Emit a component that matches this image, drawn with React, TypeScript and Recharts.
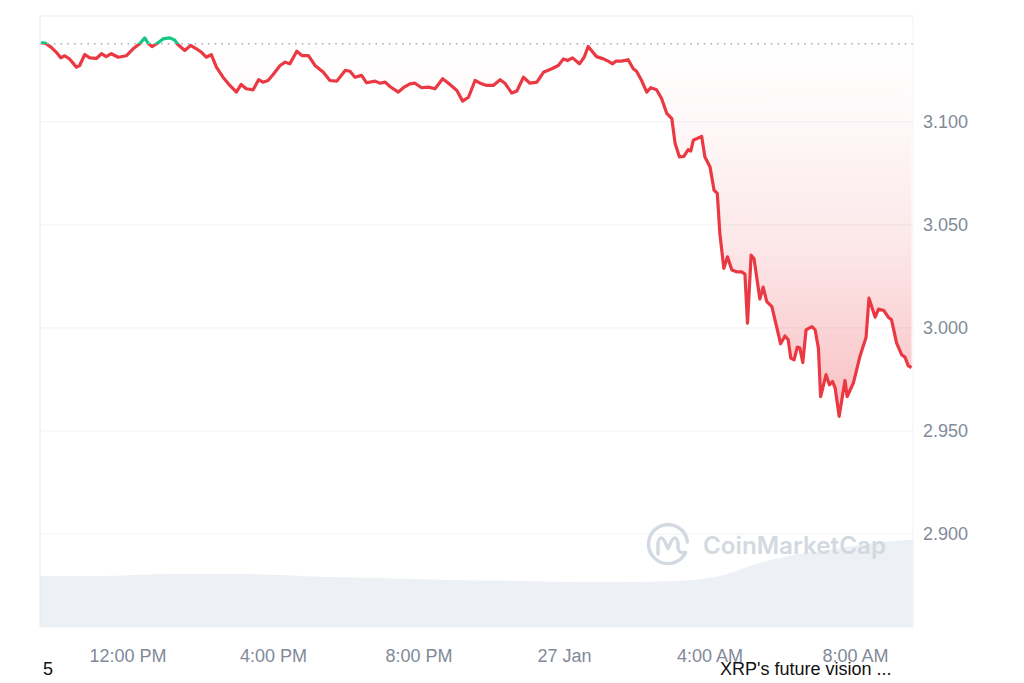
import React from 'react';
import { ComposedChart, Area, XAxis, YAxis, CartesianGrid, ReferenceLine } from 'recharts';

// hours since 26 Jan 00:00 (24 = 27 Jan midnight)
const priceTimes = [
  9.6, 9.73, 9.89, 10.03, 10.15, 10.26, 10.4, 10.58, 10.67, 10.81, 10.95, 11.13, 11.27, 11.4, 11.54, 11.73, 11.95,
  12.14, 12.32, 12.46, 12.55, 12.66, 12.81, 12.96, 13.15, 13.28, 13.37, 13.56, 13.72, 13.88, 14.02, 14.15, 14.29,
  14.43, 14.61, 14.8, 14.98, 15.11, 15.25, 15.44, 15.59, 15.71, 15.85, 15.99, 16.18, 16.32, 16.45, 16.64, 16.78,
  16.96, 17.14, 17.37, 17.55, 17.74, 17.97, 18.1, 18.24, 18.42, 18.56, 18.79, 18.93, 19.07, 19.2, 19.43, 19.57,
  19.75, 19.89, 20.07, 20.26, 20.44, 20.65, 20.81, 21.04, 21.2, 21.36, 21.54, 21.72, 21.86, 22.04, 22.23, 22.36,
  22.55, 22.69, 22.87, 23.05, 23.24, 23.42, 23.65, 23.83, 23.97, 24.08, 24.22, 24.41, 24.54, 24.65, 24.88, 25.07,
  25.2, 25.32, 25.41, 25.57, 25.75, 25.89, 25.98, 26.12, 26.26, 26.37, 26.53, 26.67, 26.81, 26.95, 27.04, 27.16,
  27.28, 27.4, 27.47, 27.54, 27.77, 27.86, 28.0, 28.11, 28.2, 28.27, 28.38, 28.48, 28.6, 28.73, 28.87, 28.96,
  29.03, 29.13, 29.21, 29.37, 29.46, 29.56, 29.7, 29.83, 29.94, 30.06, 30.15, 30.22, 30.31, 30.4, 30.47, 30.55,
  30.64, 30.8, 30.89, 30.98, 31.04, 31.19, 31.28, 31.37, 31.44, 31.55, 31.71, 31.77, 31.94, 32.12, 32.29, 32.37,
  32.54, 32.63, 32.78, 32.9, 32.99, 33.13, 33.27, 33.36, 33.45, 33.54,
];

const prices = [
  3.1383, 3.1381, 3.1361, 3.1337, 3.131, 3.132, 3.1303, 3.1265, 3.1273, 3.1326, 3.131, 3.1307, 3.133, 3.1316, 3.133, 3.1313, 3.132,
  3.1354, 3.1378, 3.1407, 3.1381, 3.1365, 3.1381, 3.1402, 3.1407, 3.1397, 3.1375, 3.1346, 3.137, 3.1354, 3.1337, 3.1313, 3.1326,
  3.1265, 3.1216, 3.1176, 3.1144, 3.1181, 3.116, 3.1155, 3.1204, 3.1192, 3.12, 3.1229, 3.1273, 3.1289, 3.1281, 3.1342, 3.1321,
  3.1321, 3.1273, 3.124, 3.12, 3.1197, 3.1249, 3.1245, 3.1216, 3.1225, 3.1189, 3.1197, 3.1187, 3.1192, 3.1171, 3.1144, 3.1165,
  3.1184, 3.1187, 3.1165, 3.1168, 3.116, 3.1209, 3.1187, 3.1152, 3.11, 3.1119, 3.12, 3.1184, 3.1176, 3.1176, 3.1204, 3.1187,
  3.1139, 3.1149, 3.1216, 3.1187, 3.1192, 3.124, 3.1257, 3.1273, 3.1305, 3.1297, 3.131, 3.1281, 3.1313, 3.1365, 3.1316, 3.1305,
  3.1294, 3.1281, 3.1294, 3.1294, 3.1301, 3.1257, 3.1245, 3.12, 3.1144, 3.1165, 3.1155, 3.1112, 3.1041, 3.1015, 3.0894, 3.0829,
  3.0832, 3.0865, 3.0858, 3.091, 3.0929, 3.0829, 3.0781, 3.0668, 3.0652, 3.0458, 3.0289, 3.0345, 3.0281, 3.0272, 3.0272, 3.0261,
  3.0023, 3.0353, 3.0335, 3.014, 3.0198, 3.0127, 3.0103, 3.0006, 2.9923, 2.9961, 2.9942, 2.9853, 2.9845, 2.9907, 2.9902, 2.9832,
  2.999, 3.0006, 2.999, 2.9902, 2.9667, 2.9773, 2.9724, 2.974, 2.9708, 2.9571, 2.9745, 2.9667, 2.9732, 2.9861, 2.9955, 3.0144,
  3.0052, 3.0091, 3.0084, 3.0052, 3.0039, 2.9926, 2.9869, 2.9858, 2.9816, 2.9808,
];

// volume, arbitrary units
const volumeTimes = [9.58, 11.2, 13.2, 14.9, 17.55, 20.0, 23.05, 24.98, 27.0, 27.73, 28.27, 28.8, 29.37, 30.2, 31.3, 32.4, 33.58];
const volumes = [50, 50, 52, 52, 49, 47, 45, 44, 45, 47, 50, 56, 63, 70, 76, 82, 86];

const xTicks = [12, 16, 20, 24, 28, 32];
const xTickLabels = ['12:00 PM', '4:00 PM', '8:00 PM', '27 Jan', '4:00 AM', '8:00 AM'];
const yTicks = [2.9, 2.95, 3.0, 3.05, 3.1];
const openPrice = 3.1378;

const X_DOMAIN: [number, number] = [9.58, 33.58];
const Y_DOMAIN: [number, number] = [2.8549, 3.1513];

const RED = '#ea3943';
const GREEN = '#16c784';
const GRID = '#eff2f5';
const TICK = { fill: '#828a99', fontSize: 18, fontFamily: '"Liberation Sans", Arial, sans-serif' };

const rows = [
  ...priceTimes.map((t, i) => ({ t, price: prices[i] })),
  ...volumeTimes.map((t, i) => ({ t, vol: volumes[i] })),
].sort((a, b) => a.t - b.t);

const maxP = Math.max(...prices);
const minP = Math.min(...prices);
const splitOffset = (maxP - openPrice) / (maxP - minP);

export default function App() {
  return (
    <div style={{ position: 'relative', width: 1000, height: 667 }}>
      <style>{'body{overflow:hidden}'}</style>
      <ComposedChart width={1000} height={675} data={rows} margin={{ top: 8, right: 15, bottom: 16, left: 32 }}>
        <defs>
          <linearGradient id="lineSplit" x1="0" y1="0" x2="0" y2="1">
            <stop offset={0} stopColor={GREEN} />
            <stop offset={splitOffset} stopColor={GREEN} />
            <stop offset={splitOffset} stopColor={RED} />
            <stop offset={1} stopColor={RED} />
          </linearGradient>
          <linearGradient id="fillRed" x1="0" y1="0" x2="0" y2="1">
            <stop offset={0} stopColor={RED} stopOpacity={0} />
            <stop offset={0.2} stopColor={RED} stopOpacity={0.03} />
            <stop offset={0.55} stopColor={RED} stopOpacity={0.12} />
            <stop offset={1} stopColor={RED} stopOpacity={0.32} />
          </linearGradient>
        </defs>
        <CartesianGrid yAxisId="price" vertical={false} stroke={GRID} />
        <XAxis
          dataKey="t"
          type="number"
          domain={X_DOMAIN}
          ticks={xTicks}
          allowDataOverflow
          tickFormatter={(v) => xTickLabels[xTicks.indexOf(v)] ?? ''}
          axisLine={false}
          tickLine={false}
          tickSize={0}
          tickMargin={22}
          height={40}
          tick={TICK}
        />
        <YAxis
          yAxisId="price"
          orientation="right"
          domain={Y_DOMAIN}
          ticks={yTicks}
          allowDataOverflow
          tickFormatter={(v) => v.toFixed(3)}
          axisLine={{ stroke: GRID }}
          tickLine={false}
          tickSize={0}
          tickMargin={10}
          width={80}
          tick={TICK}
        />
        <YAxis yAxisId="vol" hide domain={[0, 600]} />
        <ReferenceLine yAxisId="price" y={Y_DOMAIN[1]} stroke={GRID} />
        <ReferenceLine yAxisId="price" x={X_DOMAIN[0]} stroke="#e8ebef" />
        <Area
          yAxisId="vol"
          dataKey="vol"
          type="monotone"
          connectNulls
          fill="#edf0f4"
          fillOpacity={1}
          stroke="none"
          isAnimationActive={false}
        />
        <ReferenceLine yAxisId="price" y={openPrice} stroke="#a3a9b6" strokeWidth={1.5} strokeDasharray="1.5 5.2" />
        <Area
          yAxisId="price"
          dataKey="price"
          type="linear"
          connectNulls
          baseValue={openPrice}
          stroke="url(#lineSplit)"
          strokeWidth={3.2}
          strokeLinejoin="round"
          fill="url(#fillRed)"
          fillOpacity={1}
          dot={false}
          activeDot={false}
          isAnimationActive={false}
        />
      </ComposedChart>
      <svg
        width={1000}
        height={675}
        style={{ position: 'absolute', left: 0, top: 0, pointerEvents: 'none' }}
      >
        <g transform="translate(660 536)" fill="none" stroke="#d3d9e1" strokeWidth={3.4} strokeLinecap="round" strokeLinejoin="round">
          <path d="M 17.6 8.5 A 19.5 19.5 0 1 1 19.4 -2" />
          <path d="M -10 10 L -10 -1 Q -8 -10 -3.5 -3 L 0 4.5 L 3.5 -3 Q 8 -10 10 -1 L 10 4 Q 11 10 17.6 8.5" />
        </g>
        <text
          x={695}
          y={546}
          fill="#d3d9e1"
          fontSize={24}
          fontWeight={600}
          fontFamily="Inter, 'Noto Sans', sans-serif"
          textLength={183}
          lengthAdjust="spacingAndGlyphs"
        >
          CoinMarketCap
        </text>
        <text x={35} y={667} fill="#111" fontSize={18} fontFamily='"Liberation Sans", Arial, sans-serif'>
          5
        </text>
        <text x={712} y={667} fill="#111" fontSize={18} fontFamily='"Liberation Sans", Arial, sans-serif'>
          XRP's future vision ...
        </text>
      </svg>
    </div>
  );
}
